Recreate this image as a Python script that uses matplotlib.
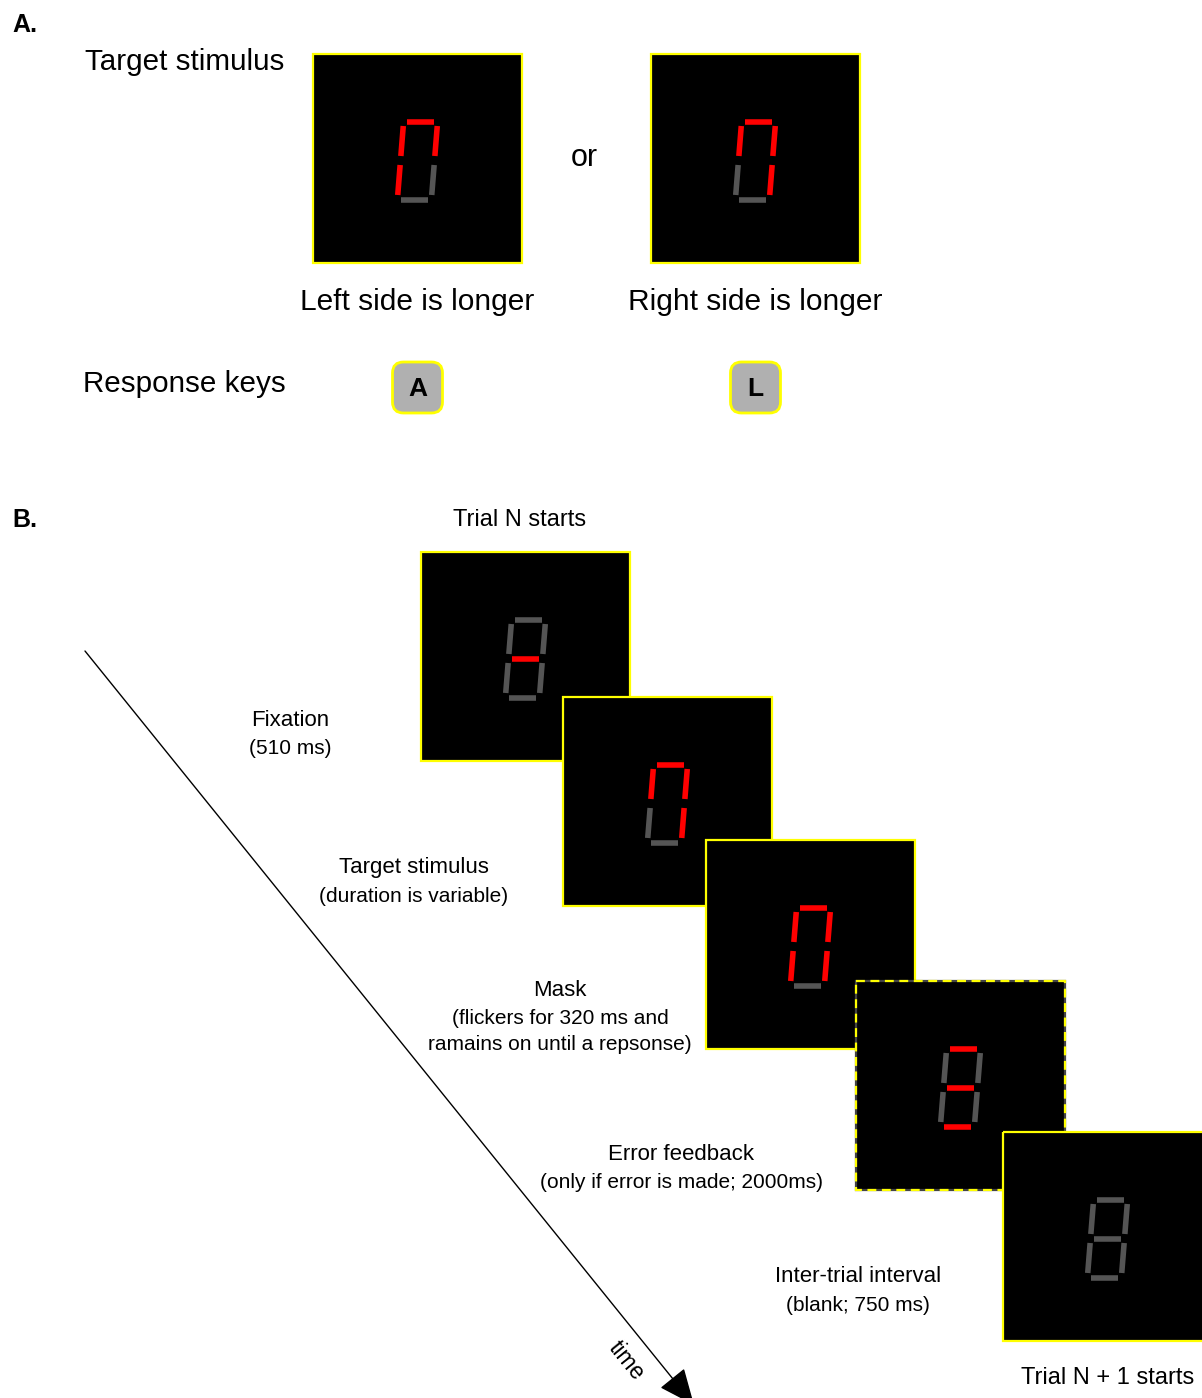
import matplotlib.pyplot as plt
from matplotlib.patches import Rectangle, FancyBboxPatch

plt.rcParams['font.family'] = ['Liberation Sans', 'DejaVu Sans']

W, H = 1202, 1398

# seven-segment states, order a b c d e f g (top, up-right, low-right, bottom,
# low-left, up-left, middle); R = red, G = grey, - = off
panel_a_states = ['RRGGRR-', 'RRRGGR-']
panel_a_boxes = [(313, 54), (651, 54)]
panel_a_captions = ['Left side is longer', 'Right side is longer']
key_labels = ['A', 'L']

trial_states = ['GGGGGGR', 'RRRGGR-', 'RRRGRR-', 'RGGRGGR', 'GGGGGGG']
trial_boxes = [(421, 552), (563, 697), (706, 840), (856, 981), (1003, 1132)]
trial_dashed = [False, False, False, True, False]
trial_titles = ['Fixation', 'Target stimulus', 'Mask', 'Error feedback', 'Inter-trial interval']
trial_notes = ['(510 ms)', '(duration is variable)',
               '(flickers for 320 ms and\nramains on until a repsonse)',
               '(only if error is made; 2000ms)', '(blank; 750 ms)']
trial_label_pos = [(290, 720), (414, 868), (560, 990), (681, 1154), (858, 1277)]

BOX = 209
RED = '#ff0000'
GREY = '#555555'
YELLOW = '#ffff00'


def seg_xy(x, y, cx, cy):
    # slight italic slant like a real LED digit
    return cx + x - 0.08 * y, cy + y


def draw_digit(ax, cx, cy, states, z):
    L, R, T, M, B = -17, 17, -39, 0, 39
    gv, gh = 4.5, 3.5
    segs = [
        ((L + gh, T), (R - gh, T)),
        ((R, T + gv), (R, M - gv)),
        ((R, M + gv), (R, B - gv)),
        ((L + gh, B), (R - gh, B)),
        ((L, M + gv), (L, B - gv)),
        ((L, T + gv), (L, M - gv)),
        ((L + gh, M), (R - gh, M)),
    ]
    for (p0, p1), st in zip(segs, states):
        if st == '-':
            continue
        x0, y0 = seg_xy(p0[0], p0[1], cx, cy)
        x1, y1 = seg_xy(p1[0], p1[1], cx, cy)
        ax.plot([x0, x1], [y0, y1], color=RED if st == 'R' else GREY,
                lw=4.0, solid_capstyle='butt', zorder=z)


def draw_box(ax, x, y, states, z, dashed=False):
    ax.add_patch(Rectangle((x, y), BOX, BOX, facecolor='black', edgecolor='none', zorder=z))
    if dashed:
        ax.add_patch(Rectangle((x, y), BOX, BOX, facecolor='none', edgecolor='#444444',
                               lw=1.6, zorder=z + 0.5))
        ax.add_patch(Rectangle((x, y), BOX, BOX, facecolor='none', edgecolor=YELLOW,
                               lw=1.6, linestyle=(0, (4, 2.5)), zorder=z + 0.6))
    else:
        ax.add_patch(Rectangle((x, y), BOX, BOX, facecolor='none', edgecolor=YELLOW,
                               lw=1.6, zorder=z + 0.6))
    draw_digit(ax, x + BOX / 2, y + BOX / 2 + 2, states, z + 0.7)


fig = plt.figure(figsize=(W / 100, H / 100), dpi=100)
ax = fig.add_axes([0, 0, 1, 1])
ax.set_xlim(0, W)
ax.set_ylim(H, 0)
ax.axis('off')

# ---- panel A ----
ax.text(12, 25, 'A.', fontsize=18, fontweight='bold', va='center', ha='left')
ax.text(85, 62, 'Target stimulus', fontsize=21.3, va='center', ha='left')
ax.text(83, 384, 'Response keys', fontsize=21.3, va='center', ha='left')
ax.text(584, 158, 'or', fontsize=22, va='center', ha='center')

for i, ((bx, by), st, cap, key) in enumerate(zip(panel_a_boxes, panel_a_states,
                                                  panel_a_captions, key_labels)):
    draw_box(ax, bx, by, st, 2 + 2 * i)
    kx = bx + BOX / 2
    ax.text(kx, 302, cap, fontsize=21.5, va='center', ha='center')
    ax.add_patch(FancyBboxPatch((kx - 20, 367), 40, 41,
                                boxstyle='round,pad=5,rounding_size=11',
                                facecolor='#b0b0b0', edgecolor=YELLOW, lw=2))
    ax.text(kx, 389, key, fontsize=19, fontweight='bold', va='center', ha='center')

# ---- panel B ----
ax.text(12, 520, 'B.', fontsize=18, fontweight='bold', va='center', ha='left')
ax.text(520, 520, 'Trial N starts', fontsize=17, va='center', ha='center')
ax.text(1108, 1378, 'Trial N + 1 starts', fontsize=17, va='center', ha='center')

for i, ((bx, by), st, dash) in enumerate(zip(trial_boxes, trial_states, trial_dashed)):
    draw_box(ax, bx, by, st, 10 + 2 * i, dashed=dash)

for title, note, (tx, ty) in zip(trial_titles, trial_notes, trial_label_pos):
    ax.text(tx, ty, title, fontsize=16, va='center', ha='center')
    ax.text(tx, ty + 19, note, fontsize=15, va='top', ha='center', linespacing=1.45)

# time arrow
ax.annotate('', xy=(694, 1405), xytext=(85, 651), annotation_clip=False,
            arrowprops=dict(arrowstyle='-|>,head_length=2.3,head_width=1.0',
                            color='black', lw=1.0, shrinkA=0, shrinkB=0))
ax.text(626, 1361, 'time', fontsize=16.5, rotation=-51, rotation_mode='anchor',
        va='center', ha='center')

fig.savefig('out.png', dpi=100, facecolor='white')
